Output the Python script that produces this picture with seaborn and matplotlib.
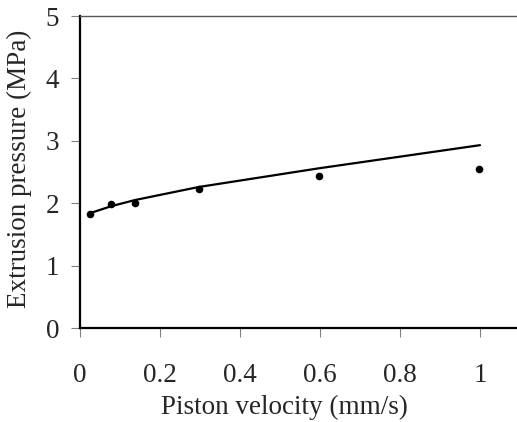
import matplotlib
matplotlib.use("Agg")
import matplotlib.pyplot as plt
import seaborn as sns
import pandas as pd

# data
velocity_pts = [0.025, 0.077, 0.137, 0.297, 0.598, 0.998]
pressure_pts = [1.83, 1.98, 2.01, 2.22, 2.43, 2.55]
velocity_fit = [0.025, 0.077, 0.137, 0.297, 0.598, 1.0]
pressure_fit = [1.84, 1.95, 2.05, 2.26, 2.56, 2.93]
x_ticks = [0, 0.2, 0.4, 0.6, 0.8, 1.0]
x_tick_labels = ["0", "0.2", "0.4", "0.6", "0.8", "1"]
y_ticks = [0, 1, 2, 3, 4, 5]

sns.set_style("white")
plt.rcParams["font.family"] = ["Liberation Serif", "DejaVu Serif"]

fig = plt.figure(figsize=(5.17, 4.22), dpi=100)
ax = fig.add_axes([80 / 517, 94 / 422, 1 - 80 / 517, (328 - 16) / 422])

pts = pd.DataFrame({"v": velocity_pts, "p": pressure_pts})
fit = pd.DataFrame({"v": velocity_fit, "p": pressure_fit})

sns.lineplot(data=fit, x="v", y="p", ax=ax, color="black", linewidth=1.6, sort=True)
sns.scatterplot(data=pts, x="v", y="p", ax=ax, color="black", s=30, edgecolor="black", linewidth=0, zorder=3)

ax.set_xlim(0, 437 / 400)
ax.set_ylim(0, 5)
ax.set_xticks(x_ticks)
ax.set_xticklabels(x_tick_labels)
ax.set_yticks(y_ticks)

fs = 19.5
ax.tick_params(axis="both", which="major", labelsize=fs, direction="out",
               length=6.5, width=0.8, color="#808080", bottom=True, left=True)
ax.tick_params(axis="x", pad=19)
ax.tick_params(axis="y", pad=8.5)

for side in ["left", "bottom"]:
    ax.spines[side].set_color("black")
    ax.spines[side].set_linewidth(1.6)
ax.spines["top"].set_color("#555555")
ax.spines["top"].set_linewidth(1.0)
ax.spines["right"].set_visible(False)

ax.set_xlabel("Piston velocity (mm/s)", fontsize=fs)
ax.set_ylabel("Extrusion pressure (MPa)", fontsize=fs)
ax.xaxis.set_label_coords((284.5 - 80) / 437, -67 / 312)
ax.yaxis.set_label_coords(-48 / 437, (328 - 168.5) / 312)

fig.savefig("out.png", dpi=100, facecolor="white")
